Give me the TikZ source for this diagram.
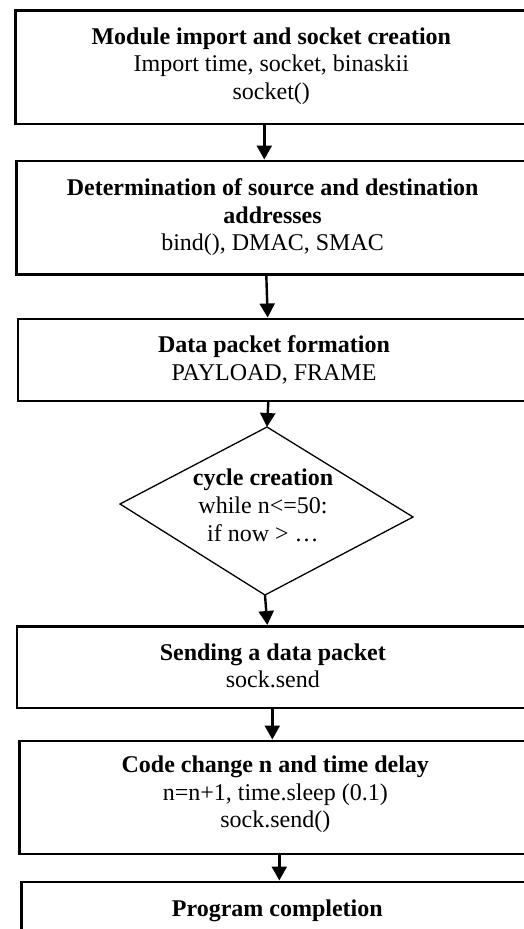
\documentclass[tikz,border=0pt]{standalone}
\usepackage{fontspec}
\setmainfont{Liberation Serif}
\usetikzlibrary{arrows.meta}
\begin{document}
\begin{tikzpicture}[x=1pt,y=-1pt,
  box/.style={draw, line width=2.6pt, rectangle, anchor=north west, minimum width=512pt,
    align=center, inner sep=0pt, font=\fontsize{24}{27.5}\selectfont},
  dtext/.style={align=center, inner sep=0pt, font=\fontsize{24}{28}\selectfont},
  diam/.style={draw, line width=1.3pt, line join=miter},
  arr/.style={line width=2.4pt, -{Triangle[width=15pt,length=14pt]}}]
\fill[white] (0,0) rectangle (524,929);
\useasboundingbox (0,0) rectangle (524,929);
\clip (0,0) rectangle (524,929);

\node[box, minimum height=113.5pt] (b1) at (14,9)
  {\textbf{Module import and socket creation}\\ Import time, socket, binaskii\\ socket()\rule[-7pt]{0pt}{7pt}};
\node[box, minimum height=113.5pt] (b2) at (15.3,159.5)
  {\textbf{Determination of source and destination}\\ \textbf{addresses}\\ bind(), DMAC, SMAC};
\node[box, minimum height=82pt] (b3) at (16.7,317.5)
  {\textbf{Data packet formation}\\ PAYLOAD, FRAME};

\coordinate (dt) at (267,427);
\coordinate (dr) at (413,517);
\coordinate (db) at (265,595);
\coordinate (dl) at (120,504);
\draw[diam] (dt) -- (dr) -- (db) -- (dl) -- cycle;
\node[dtext] (d) at (263,505) {\textbf{cycle creation}\\ while n<=50:\\ if now > …};

\node[box, minimum height=81.5pt] (b4) at (15.5,625)
  {\textbf{Sending a data packet}\\ sock.send\rule[-3pt]{0pt}{3pt}};
\node[box, minimum height=113pt] (b5) at (18,739.5)
  {\textbf{Code change n and time delay}\\ n=n+1, time.sleep (0.1)\\ sock.send()\rule[-11pt]{0pt}{11pt}};
\node[box, minimum height=58pt] (b6) at (20,880.5)
  {\textbf{Program completion}};

\draw[arr] ([xshift=-7pt]b1.south) -- ([xshift=-8.3pt]b2.north);
\draw[arr] ([xshift=-6.3pt]b2.south) -- ([xshift=-6.3pt]b3.north);
\draw[arr] ([xshift=-5.7pt]b3.south) -- (dt);
\draw[arr] (db) -- ([xshift=-5.5pt]b4.north);
\draw[arr] ([xshift=-0.5pt]b4.south) -- ([xshift=-3pt]b5.north);
\draw[arr] ([xshift=4pt]b5.south) -- ([xshift=2pt]b6.north);
\end{tikzpicture}
\end{document}
